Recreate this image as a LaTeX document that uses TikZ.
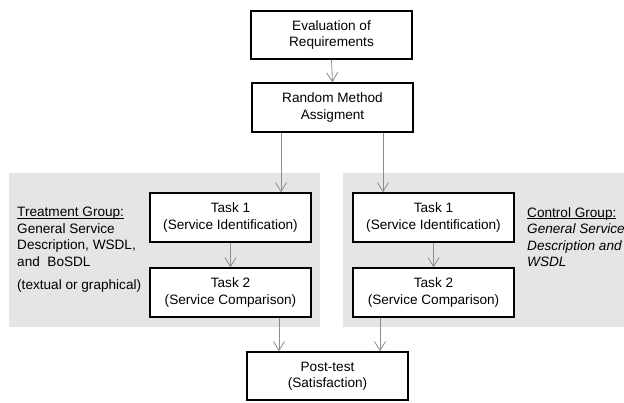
\documentclass[tikz,border=0pt]{standalone}
\usepackage{fontspec}
\setmainfont{Liberation Sans}
\usetikzlibrary{arrows.meta}
\newcommand\myul[1]{\setbox0\hbox{#1}\rlap{\rule[-1.6pt]{\wd0}{0.7pt}}#1}
\begin{document}
\begin{tikzpicture}[x=1pt,y=-1pt,
  box/.style={draw=black,line width=1.3pt,fill=white,minimum width=161pt,inner sep=0pt,align=center,font=\fontsize{13.6}{16.5}\selectfont},
  arr/.style={draw=black!45,line width=0.8pt,-{Straight Barb[length=9pt,width=11pt,line width=0.8pt]}},
  panel/.style={fill=black!10,draw=none},
  lbl/.style={align=left,anchor=north west,inner sep=0pt,font=\fontsize{13.6}{16.6}\selectfont}]
\clip (0,0) rectangle (624,402);
\fill[white] (0,0) rectangle (624,402);
\path[panel] (9,173) rectangle (320,327);
\path[panel] (343,173) rectangle (640,327);
\node[box,minimum height=48pt] (eval) at (331.5,35) {Evaluation of\\Requirements};
\node[box,minimum height=49pt] (rand) at (332.5,107.5) {Random Method\\Assigment};
\node[box,minimum height=49pt] (t1l) at (230.5,217.5) {Task 1\\(Service Identification)};
\node[box,minimum height=49pt] (t2l) at (230.5,292.5) {Task 2\\(Service Comparison)};
\node[box,minimum height=49pt] (t1r) at (433.5,217.5) {Task 1\\(Service Identification)};
\node[box,minimum height=49pt] (t2r) at (433.5,292.5) {Task 2\\(Service Comparison)};
\node[box,minimum height=48pt] (post) at (327.5,376) {Post-test\\(Satisfaction)};
\node[lbl] (treat) at (17,207) {\myul{Treatment Group:}\\General Service\\Description, WSDL,\\and\ \ BoSDL};
\node[lbl,anchor=north west] (textual) at (17,279.5) {(textual or graphical)};
\node[lbl] (ctrl) at (527,207) {\myul{Control Group:}\\\textit{General Service}\\\textit{Description and}\\\textit{WSDL}};
\draw[arr] (eval.south) -- (rand.north);
\draw[arr] ([xshift=-51.5pt]rand.south) -- ([xshift=-51.5pt]rand.south |- t1l.north);
\draw[arr] ([xshift=50.5pt]rand.south) -- ([xshift=50.5pt]rand.south |- t1r.north);
\draw[arr] (t1l.south) -- (t2l.north);
\draw[arr] (t1r.south) -- (t2r.north);
\draw[arr] ([xshift=48.5pt]t2l.south) -- ([xshift=48.5pt]t2l.south |- post.north);
\draw[arr] ([xshift=-53.5pt]t2r.south) -- ([xshift=-53.5pt]t2r.south |- post.north);
\end{tikzpicture}
\end{document}
